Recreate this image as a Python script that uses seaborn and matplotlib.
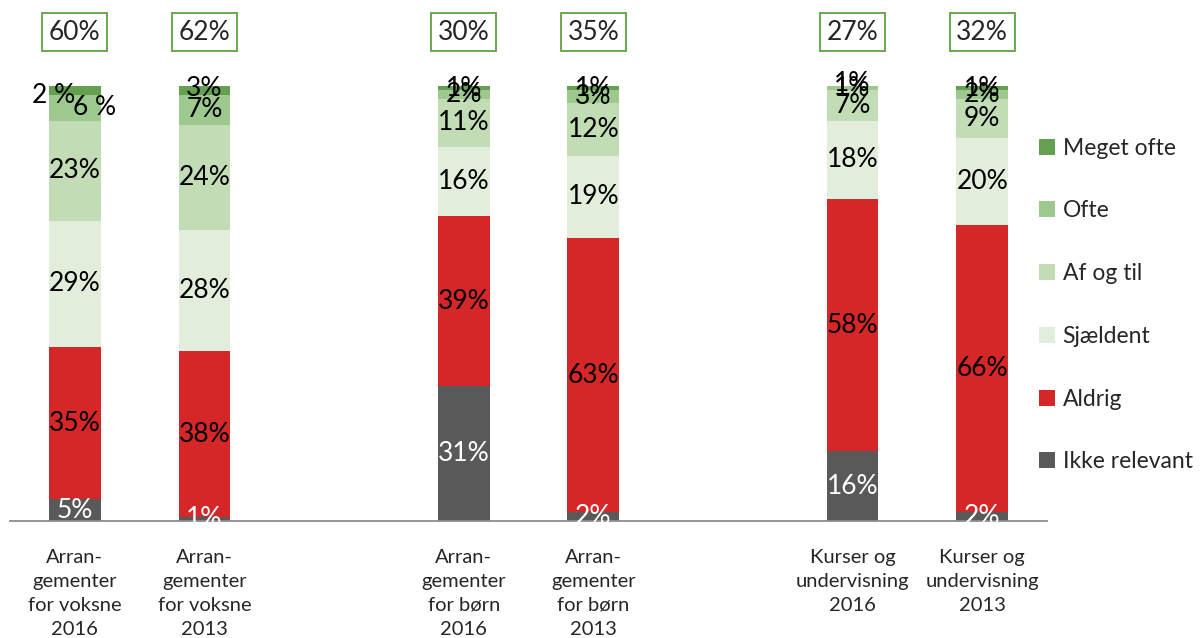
import numpy as np
import pandas as pd
import matplotlib
matplotlib.use("Agg")
import matplotlib.pyplot as plt
import seaborn as sns
from matplotlib.patches import Patch

# categories and their slot on the x axis (slots 2 and 5 are empty gaps)
categories = ["Arran-\ngementer\nfor voksne\n2016", "Arran-\ngementer\nfor voksne\n2013",
              "Arran-\ngementer\nfor børn\n2016", "Arran-\ngementer\nfor børn\n2013",
              "Kurser og\nundervisning\n2016", "Kurser og\nundervisning\n2013"]
slots = [0, 1, 3, 4, 6, 7]
n_slots = 8

series = ["Ikke relevant", "Aldrig", "Sjældent", "Af og til", "Ofte", "Meget ofte"]
ikke_relevant = [5, 1, 31, 2, 16, 2]
aldrig = [35, 38, 39, 63, 58, 66]
sjaeldent = [29, 28, 16, 19, 18, 20]
af_og_til = [23, 24, 11, 12, 7, 9]
ofte = [6, 7, 2, 3, 1, 2]
meget_ofte = [2, 3, 1, 1, 1, 1]
box_totals = [60, 62, 30, 35, 27, 32]

colors = {"Ikke relevant": "#595959", "Aldrig": "#d62728", "Sjældent": "#e2eedb",
          "Af og til": "#c2dcb5", "Ofte": "#9dc98f", "Meget ofte": "#64a050"}

values = [ikke_relevant, aldrig, sjaeldent, af_og_til, ofte, meget_ofte]
rows = []
for s, vals in zip(series, values):
    for cat, slot, v in zip(categories, slots, vals):
        rows.append({"category": cat, "slot": slot, "series": s, "value": v})
df = pd.DataFrame(rows)
df["top"] = df.groupby("slot")["value"].cumsum()
df["bottom"] = df["top"] - df["value"]

sns.set_theme(style="white")
plt.rcParams["font.family"] = ["Lato", "DejaVu Sans"]

fig = plt.figure(figsize=(12.01, 6.38), dpi=100)
ax = fig.add_axes([10 / 1201, 117 / 638, 1037 / 1201, 435 / 638])

# stacked bars: draw cumulative tops from the highest series downwards
for s in series[::-1]:
    sub = df[df["series"] == s]
    sns.barplot(data=sub, x="slot", y="top", native_scale=True, width=0.4,
                color=colors[s], saturation=1, linewidth=0, ax=ax)

# manual label nudges (points) as in the original chart
nudges = {(0, "Meget ofte"): (-15, -4, "2 %"), (0, "Ofte"): (14, 0, "6 %")}
for _, r in df.iterrows():
    i = slots.index(r["slot"])
    dx, dy, txt = nudges.get((i, r["series"]), (0, 0, f"{r['value']}%"))
    col = "white" if r["series"] == "Ikke relevant" else "black"
    ax.annotate(txt, (r["slot"], r["bottom"] + r["value"] / 2), xytext=(dx, dy),
                textcoords="offset points", ha="center", va="center",
                fontsize=19, color=col, annotation_clip=False)

for slot, tot in zip(slots, box_totals):
    ax.text(slot, 112.4, f"{tot}%", ha="center", va="center", fontsize=19,
            bbox=dict(boxstyle="square,pad=0.25", fc="white", ec="#5fa046", lw=1.3),
            clip_on=False)

ax.set_xlim(-0.5, n_slots - 0.5)
ax.set_ylim(0, 100)
ax.set_xlabel("")
ax.set_ylabel("")
ax.set_yticks([])
ax.set_xticks(np.arange(-0.5, n_slots, 1.0))
ax.set_xticklabels([])
ax.set_xticks(slots, minor=True)
ax.set_xticklabels(categories, minor=True, fontsize=14.5, linespacing=1.5)
ax.tick_params(axis="x", which="major", length=8, width=1.3, color="#8c8c8c", direction="out")
ax.tick_params(axis="x", which="minor", length=0, pad=20)
for side in ["left", "right", "top"]:
    ax.spines[side].set_visible(False)
ax.spines["bottom"].set_color("#8c8c8c")
ax.spines["bottom"].set_linewidth(1.3)

handles = [Patch(facecolor=colors[s], edgecolor="none") for s in series[::-1]]
fig.legend(handles, series[::-1], loc="center left", bbox_to_anchor=(1018 / 1201, 333 / 638),
           frameon=False, fontsize=16.5, handlelength=0.7, handleheight=0.7,
           handletextpad=0.35, labelspacing=1.82)

fig.savefig("out.png", dpi=100)
